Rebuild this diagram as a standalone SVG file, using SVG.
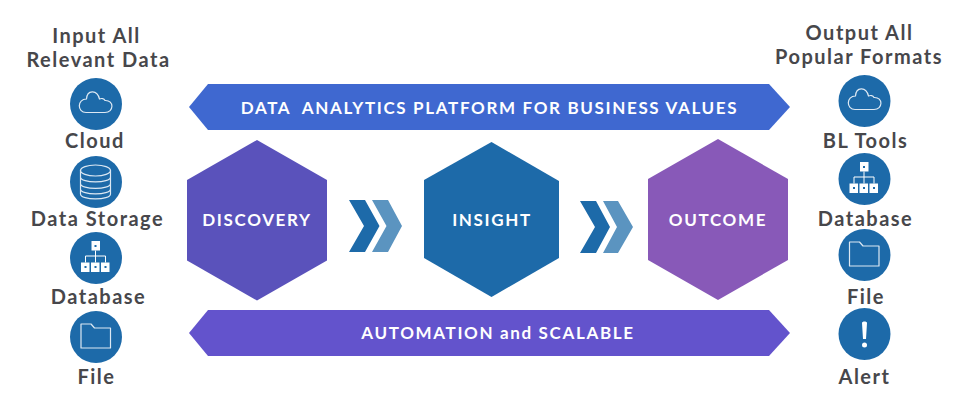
<svg xmlns="http://www.w3.org/2000/svg" width="970" height="405" viewBox="0 0 970 405">
<style>
.lbl{font-family:"Lato","Liberation Sans",sans-serif;font-weight:700;font-size:20px;fill:#47474b;text-anchor:middle;letter-spacing:1.5px}
.w{font-family:"Lato","Liberation Sans",sans-serif;font-weight:700;font-size:17px;fill:#fff;text-anchor:middle;letter-spacing:1.65px;white-space:pre}
.c{fill:#1d6aa9}
.o{fill:none;stroke:#dce8f3;stroke-width:1.2;stroke-linejoin:round}
.f{fill:#fff}
.d{fill:#1d6aa9;width:2px;height:2px}
</style>
<defs>
<g id="cloud"><path class="o" d="M-10,8.500 H9 C18,8.500 18.500,-4 9,-3.500 C8,-5.500 5.500,-6 3.500,-5 C1,-15 -9,-14 -9.500,-5 C-19,-5 -19,8.500 -10,8.500 Z"/></g>
<g id="tree"><rect class="f" x="-4" y="-17" width="8.500" height="9.500"/><rect class="f" x="-14.500" y="4.500" width="8.500" height="9.500"/><rect class="f" x="-4.500" y="4.500" width="8.500" height="9.500"/><rect class="f" x="5.500" y="4.500" width="8.500" height="9.500"/><path d="M0,-7.500 V4.500 M-10,4.500 V-2 H10 V4.500" fill="none" stroke="#fff" stroke-width="1"/><rect class="d" x="-1" y="-13"/><rect class="d" x="-11" y="8"/><rect class="d" x="-1" y="8"/><rect class="d" x="9" y="8"/></g>
<g id="folder"><path class="o" d="M-15,-13 H-5 L-1.500,-9 H14.500 V11 H-15 Z"/></g>
</defs>

<g id="connectors">
<path fill="#1d6aa9" d="M349,200 H365 L379.500,226 L365,252 H349 L364,226 Z"/>
<path fill="#5b94c0" d="M372,200 H388 L402,226 L388,252 H372 L386.500,226 Z"/>
<path fill="#1d6aa9" d="M580,201 H596 L610,227 L596,253 H580 L595,227 Z"/>
<path fill="#5b94c0" d="M603,201 H618 L633,227 L618,253 H603 L617,227 Z"/>
</g>

<g id="banner-top"><path fill="#3f68d0" d="M208,84 H769 L790,107 L769,130 H208 L189,107 Z"/><text class="w" x="489.500" y="114">DATA  ANALYTICS PLATFORM FOR BUSINESS VALUES</text></g>
<g id="banner-bottom"><path fill="#6353cc" d="M208,310 H769 L790,333 L769,356 H208 L189,333 Z"/><text class="w" x="498" y="339">AUTOMATION and SCALABLE</text></g>

<g id="discovery"><polygon fill="#5a52bb" points="257,140 327,180 327,260.500 257,300.500 187,260.500 187,180"/><text class="w" x="257" y="226">DISCOVERY</text></g>
<g id="insight"><polygon fill="#1d6aa9" points="491.500,142 559,181 559,258 491.500,297 424,258 424,180"/><text class="w" x="492" y="226">INSIGHT</text></g>
<g id="outcome"><polygon fill="#8859b8" points="718,139 788,179 788,260 718,300 648,260 648,179"/><text class="w" x="718" y="226">OUTCOME</text></g>

<g id="input-title"><text class="lbl" x="96.500" y="43">Input All</text><text class="lbl" x="98.500" y="67">Relevant Data</text></g>
<g id="in-cloud"><circle class="c" cx="96" cy="104" r="26"/><use href="#cloud" x="96" y="104"/><text class="lbl" x="95" y="148">Cloud</text></g>
<g id="in-storage"><circle class="c" cx="96" cy="182" r="26"/>
<path class="o" d="M-15,-12 V12 C-15,18.500 15,18.500 15,12 V-12 M-15,-5 C-15,1.500 15,1.500 15,-5 M-15,1.500 C-15,8 15,8 15,1.500 M-15,7 C-15,13.500 15,13.500 15,7" transform="translate(95.500 182)"/>
<ellipse class="o" cx="95.500" cy="170.500" rx="15" ry="5.500"/>
<text class="lbl" x="97.500" y="226">Data Storage</text></g>
<g id="in-database"><circle class="c" cx="96" cy="258" r="26"/><use href="#tree" x="95.500" y="258"/><text class="lbl" x="98.500" y="304">Database</text></g>
<g id="in-file"><circle class="c" cx="96" cy="337" r="26"/><use href="#folder" x="96" y="337"/><text class="lbl" x="96.500" y="384">File</text></g>

<g id="output-title"><text class="lbl" x="859.500" y="40">Output All</text><text class="lbl" x="859" y="64">Popular Formats</text></g>
<g id="out-bl"><circle class="c" cx="864.500" cy="101" r="26"/><use href="#cloud" x="865" y="101"/><text class="lbl" x="865.500" y="148">BL Tools</text></g>
<g id="out-database"><circle class="c" cx="864.500" cy="179" r="26"/><use href="#tree" x="864" y="179"/><text class="lbl" x="865.500" y="226">Database</text></g>
<g id="out-file"><circle class="c" cx="864.500" cy="255" r="26"/><use href="#folder" x="864.500" y="255"/><text class="lbl" x="866" y="304">File</text></g>
<g id="out-alert"><circle class="c" cx="864.500" cy="334" r="26"/><path class="f" d="M862,323 C862,321 867,321 867,323 L866,339 H863 Z"/><circle class="f" cx="864.500" cy="345" r="2.500"/><text class="lbl" x="864.500" y="384">Alert</text></g>
</svg>
